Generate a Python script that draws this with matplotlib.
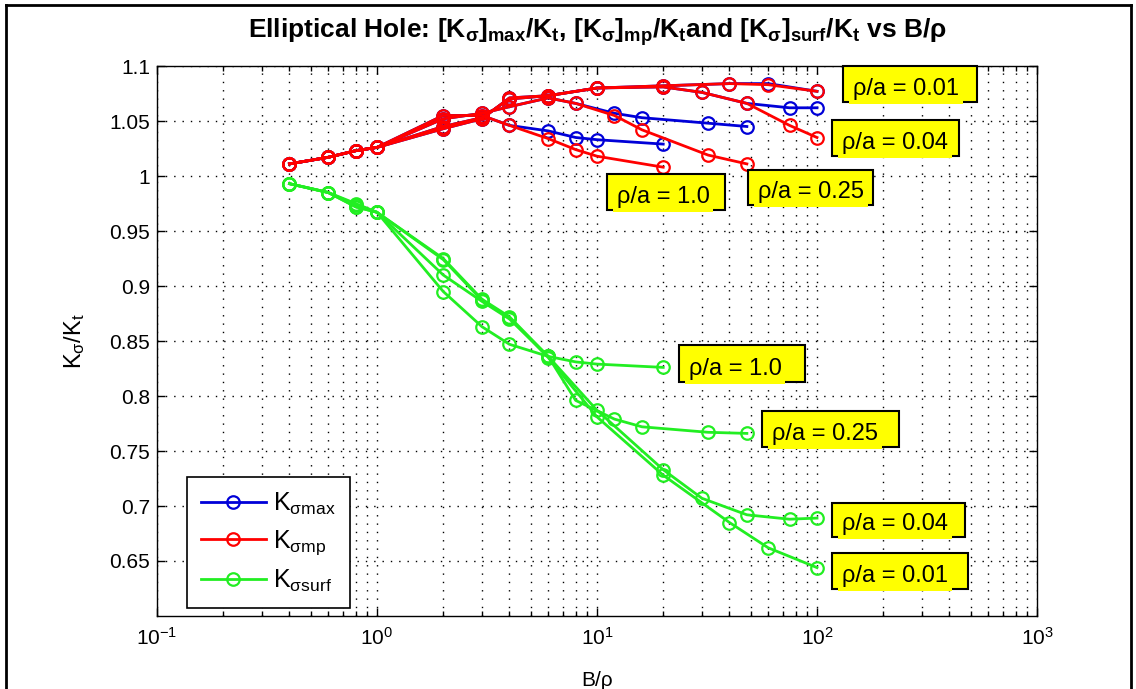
import matplotlib
matplotlib.use('Agg')
import matplotlib.pyplot as plt
from matplotlib.lines import Line2D
from matplotlib.patches import Rectangle
from matplotlib.ticker import FixedLocator, FuncFormatter, LogLocator, NullFormatter

plt.rcParams['font.family'] = ['Liberation Sans', 'DejaVu Sans']
plt.rcParams['mathtext.fontset'] = 'custom'
plt.rcParams['mathtext.rm'] = 'Liberation Sans'
plt.rcParams['mathtext.it'] = 'Liberation Sans'
plt.rcParams['mathtext.bf'] = 'Liberation Sans:bold'

# ---------------- data ----------------
x_r1 = [0.4, 0.6, 0.8, 1, 2, 3, 4, 6, 8, 10, 20]
x_r025 = [0.4, 0.6, 0.8, 1, 2, 3, 4, 6, 8, 12, 16, 32, 48]
x_r004 = [0.4, 0.6, 0.8, 1, 2, 3, 4, 6, 10, 20, 30, 48, 75, 100]
x_r001 = [0.4, 0.6, 0.8, 1, 2, 3, 4, 6, 10, 20, 40, 60, 100]

max_r1 = [1.011, 1.017, 1.023, 1.026, 1.055, 1.055, 1.046, 1.041, 1.035, 1.033, 1.029]
max_r025 = [1.011, 1.017, 1.023, 1.026, 1.052, 1.057, 1.063, 1.071, 1.066, 1.057, 1.053, 1.048, 1.045]
max_r004 = [1.011, 1.017, 1.023, 1.026, 1.045, 1.053, 1.070, 1.073, 1.080, 1.081, 1.076, 1.066, 1.062, 1.062]
max_r001 = [1.011, 1.017, 1.023, 1.026, 1.043, 1.052, 1.071, 1.073, 1.080, 1.082, 1.084, 1.084, 1.077]

mp_r1 = [1.011, 1.017, 1.023, 1.026, 1.055, 1.055, 1.046, 1.034, 1.024, 1.018, 1.008]
mp_r025 = [1.011, 1.017, 1.023, 1.026, 1.052, 1.057, 1.063, 1.071, 1.066, 1.055, 1.042, 1.019, 1.011]
mp_r004 = [1.011, 1.017, 1.023, 1.026, 1.045, 1.053, 1.070, 1.073, 1.080, 1.081, 1.076, 1.066, 1.046, 1.035]
mp_r001 = [1.011, 1.017, 1.023, 1.026, 1.043, 1.052, 1.071, 1.073, 1.080, 1.082, 1.084, 1.083, 1.077]

surf_r1 = [0.993, 0.985, 0.972, 0.967, 0.895, 0.863, 0.847, 0.836, 0.831, 0.829, 0.826]
surf_r025 = [0.993, 0.985, 0.974, 0.967, 0.910, 0.886, 0.870, 0.836, 0.796, 0.779, 0.772, 0.767, 0.766]
surf_r004 = [0.993, 0.985, 0.975, 0.967, 0.925, 0.888, 0.872, 0.836, 0.787, 0.733, 0.707, 0.692, 0.688, 0.689]
surf_r001 = [0.993, 0.985, 0.972, 0.967, 0.924, 0.887, 0.871, 0.835, 0.781, 0.728, 0.685, 0.662, 0.644]

legend_labels = [r'K$_{σmax}$', r'K$_{σmp}$', r'K$_{σsurf}$']
title_text = (r'Elliptical Hole: [K$_{\mathbf{σ}}$]$_{\mathbf{max}}$/K$_{\mathbf{t}}$, '
              r'[K$_{\mathbf{σ}}$]$_{\mathbf{mp}}$/K$_{\mathbf{t}}$and '
              r'[K$_{\mathbf{σ}}$]$_{\mathbf{surf}}$/K$_{\mathbf{t}}$ vs B/ρ')
xlabel_text = 'B/ρ'
ylabel_text = r'K$_σ$/K$_t$'
y_ticks = [0.65, 0.7, 0.75, 0.8, 0.85, 0.9, 0.95, 1.0, 1.05, 1.1]

# annotation boxes: label, pixel box (x0, y0, x1, y1)
box_labels = ['ρ/a = 0.01', 'ρ/a = 0.04', 'ρ/a = 0.25', 'ρ/a = 1.0',
              'ρ/a = 1.0', 'ρ/a = 0.25', 'ρ/a = 0.04', 'ρ/a = 0.01']
box_px = [(843, 66, 977, 102), (832, 120, 959, 156), (748, 170, 873, 205), (607, 174, 725, 210),
          (679, 345, 805, 382), (762, 411, 899, 447), (832, 503, 965, 537), (832, 553, 968, 589)]

BLUE = '#0000d8'
RED = '#ff0000'
GREEN = '#22ee22'

W, H = 1136, 689
fig = plt.figure(figsize=(W / 100, H / 100), dpi=100)
AX_L, AX_T, AX_R, AX_B = 157, 66, 1037, 616
ax = fig.add_axes([AX_L / W, (H - AX_B) / H, (AX_R - AX_L) / W, (AX_B - AX_T) / H])

style = dict(marker='o', markersize=9, markerfacecolor='none', markeredgewidth=1.6, linewidth=2.0)

for xs, ys in [(x_r1, max_r1), (x_r025, max_r025), (x_r004, max_r004), (x_r001, max_r001)]:
    ax.plot(xs, ys, color=BLUE, markeredgecolor=BLUE, **style)
for xs, ys in [(x_r1, mp_r1), (x_r025, mp_r025), (x_r004, mp_r004), (x_r001, mp_r001)]:
    ax.plot(xs, ys, color=RED, markeredgecolor=RED, **style)
for xs, ys in [(x_r1, surf_r1), (x_r025, surf_r025), (x_r004, surf_r004), (x_r001, surf_r001)]:
    ax.plot(xs, ys, color=GREEN, markeredgecolor=GREEN, **style)

ax.set_xscale('log')
ax.set_xlim(0.1, 1000)
ax.set_ylim(0.6, 1.1)
ax.yaxis.set_major_locator(FixedLocator(y_ticks))
ax.yaxis.set_major_formatter(FuncFormatter(lambda v, p: '%g' % v))
ax.xaxis.set_major_locator(LogLocator(base=10, numticks=10))
ax.xaxis.set_minor_locator(LogLocator(base=10, subs=range(2, 10), numticks=20))
ax.xaxis.set_minor_formatter(NullFormatter())

ax.tick_params(which='both', direction='in', top=True, right=True, labelsize=15, colors='black')
ax.tick_params(which='major', length=6, width=1)
ax.tick_params(which='minor', length=3.5, width=1)
ax.tick_params(axis='x', pad=8)
ax.tick_params(axis='y', pad=5)

dots = (0, (1, 5))
ax.grid(True, which='major', axis='both', color='black', linestyle=dots, linewidth=1.0)
ax.grid(True, which='minor', axis='x', color='black', linestyle=dots, linewidth=1.0)
for s in ax.spines.values():
    s.set_linewidth(1.0)
    s.set_color('black')

ax.set_title(title_text, fontsize=19, fontweight='bold', pad=20)
ax.set_xlabel(xlabel_text, fontsize=15, labelpad=16)
ax.set_ylabel(ylabel_text, fontsize=17, labelpad=16)

handles = [Line2D([], [], color=c, markeredgecolor=c, **style) for c in (BLUE, RED, GREEN)]
leg = ax.legend(handles, legend_labels, loc='lower left',
                bbox_to_anchor=((187 - AX_L) / (AX_R - AX_L), (AX_B - 608) / (AX_B - AX_T)),
                borderaxespad=0, fontsize=18, frameon=True, fancybox=False,
                edgecolor='black', framealpha=1, handlelength=2.6, labelspacing=0.45,
                borderpad=0.55, handletextpad=0.3)
leg.get_frame().set_linewidth(1.2)


def px2ax(px, py):
    return (px - AX_L) / (AX_R - AX_L), (AX_B - py) / (AX_B - AX_T)


for lab, (x0, y0, x1, y1) in zip(box_labels, box_px):
    ax0, ay0 = px2ax(x0, y1)
    ax1, ay1 = px2ax(x1, y0)
    ax.add_patch(Rectangle((ax0, ay0), ax1 - ax0, ay1 - ay0, transform=ax.transAxes,
                           facecolor='yellow', edgecolor='black', linewidth=1.5,
                           zorder=5, clip_on=False))
    tx, ty = px2ax(x0 + 10, y1 - 7)
    ax.text(tx, ty, lab, transform=ax.transAxes, fontsize=17, va='baseline', ha='left',
            zorder=6, clip_on=False,
            bbox=dict(facecolor='yellow', edgecolor='none', pad=2.5))

# outer frame of the figure
for xs, ys in [([6, 6], [5, 700]), ([6, 1131], [5, 5]), ([1131, 1131], [5, 700])]:
    fig.add_artist(Line2D([x / W for x in xs], [(H - y) / H for y in ys],
                          color='black', linewidth=2.0, transform=fig.transFigure))

fig.savefig('out.png', dpi=100)
